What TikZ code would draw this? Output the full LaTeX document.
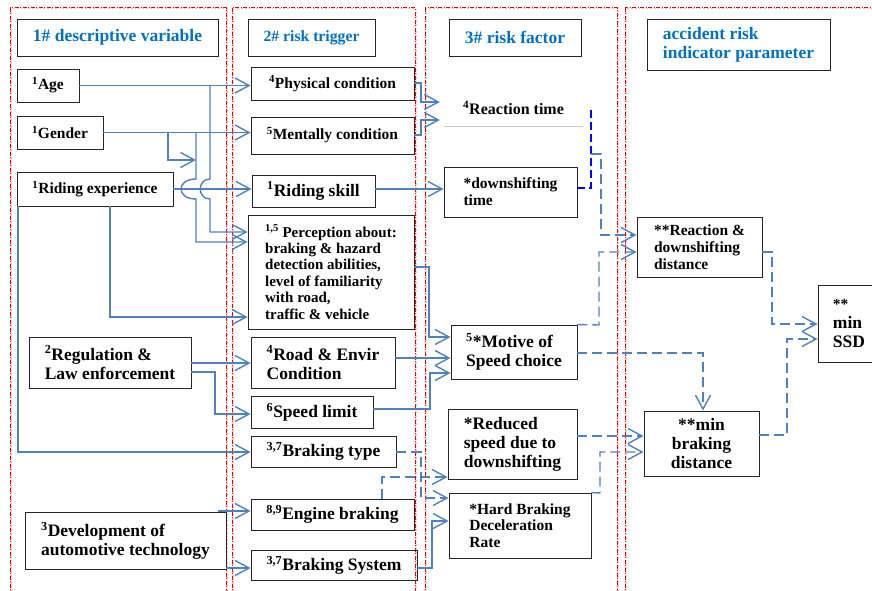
\documentclass[tikz,border=0pt]{standalone}
\usepackage{fontspec}
\setmainfont{Liberation Serif}
\usetikzlibrary{arrows.meta}
\definecolor{hblue}{RGB}{0,112,192}
\definecolor{cblue}{RGB}{79,129,189}
\newcommand\smfnt{\fontsize{15.5}{16.8}\selectfont\bfseries}
\newcommand\bgfnt{\fontsize{17.5}{19}\selectfont\bfseries}
\newcommand\sps[1]{\textsuperscript{#1}}
\begin{document}
\begin{tikzpicture}[x=1pt,y=-1pt,
  box/.style={draw=black!85,line width=0.9pt,align=left,inner sep=2pt,font=\smfnt},
  bbox/.style={box,font=\bgfnt},
  hbox/.style={box,font=\bgfnt,text=hblue},
  conn/.style={draw=cblue,line width=1.4pt,-{Straight Barb[length=14pt,width=15pt]}},
  dconn/.style={conn,dash pattern=on 10pt off 5pt},
  colbg/.style={draw=red!25,line width=1.8pt,dotted},
  colfg/.style={draw=red!90!black,line width=0.6pt,dash pattern=on 4pt off 1.5pt on 1pt off 1.5pt}]
\useasboundingbox (0,0) rectangle (872,590);
% column frames
\foreach \a/\b in {10/226,232/415,425/617,625/890}{
  \draw[colbg] (\a+1,8.5) rectangle (\b+1,600);
  \draw[colfg] (\a,7.5) rectangle (\b,600);
}
% headers
\node[hbox,minimum width=201,minimum height=37] (h1) at (117.5,37.5) {1\# descriptive variable};
\node[hbox,font=\fontsize{15.7}{17}\selectfont\bfseries,minimum width=127,minimum height=37] (h2) at (311.5,37.5) {2\# risk trigger};
\node[hbox,minimum width=132,minimum height=37] (h3) at (515,37.5) {3\# risk factor};
\node[hbox,minimum width=183,minimum height=51] (h4) at (738.5,44.5) {accident risk\\indicator parameter};
% column 1
\node[box,minimum width=62,minimum height=33] (age) at (48,85.5) {\sps{1}Age};
\node[box,minimum width=86,minimum height=33] (gender) at (60,132.5) {\sps{1}Gender};
\node[box,minimum width=156,minimum height=34] (ridexp) at (95,189) {\sps{1}Riding experience};
\node[bbox,minimum width=162,minimum height=51] (reg) at (110,362.5) {\sps{2}Regulation \&\\Law enforcement};
\node[bbox,minimum width=201,minimum height=57] (dev) at (125.5,540.5) {\sps{3}Development of\\automotive technology};
% column 2
\node[box,minimum width=163,minimum height=33] (phys) at (332.5,83.5) {\sps{4}Physical condition};
\node[box,minimum width=163,minimum height=37] (ment) at (332.5,135.5) {\sps{5}Mentally condition};
\node[bbox,minimum width=123,minimum height=32] (skill) at (313.5,191) {\sps{1}Riding skill};
\node[box,font=\fontsize{15}{16.4}\selectfont\bfseries,minimum width=166,minimum height=114] (perc) at (331,272) {\sps{1,5} Perception about:\\braking \& hazard\\detection abilities,\\level of familiarity\\with road,\\traffic \& vehicle};
\node[bbox,minimum width=144,minimum height=51] (road) at (323,362.5) {\sps{4}Road \& Envir\\Condition};
\node[bbox,minimum width=122,minimum height=32] (speed) at (312,412) {\sps{6}Speed limit};
\node[bbox,minimum width=145,minimum height=31] (btype) at (323.5,451.5) {\sps{3,7}Braking type};
\node[bbox,minimum width=163,minimum height=31] (engine) at (332.5,514.5) {\sps{8,9}Engine braking};
\node[bbox,minimum width=166,minimum height=30] (bsys) at (334,565) {\sps{3,7}Braking System};
% column 3
\node[font=\fontsize{16}{18}\selectfont\bfseries,minimum width=147,minimum height=36,inner sep=0pt] (react) at (513.5,108) {\sps{4}Reaction time};
\draw[black!20,line width=0.6pt] ([xshift=4]react.south west) -- ([xshift=-4]react.south east);
\node[box,minimum width=133,minimum height=50] (dtime) at (510.5,192) {*downshifting\\time};
\node[bbox,minimum width=126,minimum height=54] (motive) at (514,352) {\sps{5}*Motive of\\Speed choice};
\node[bbox,minimum width=129,minimum height=70] (reduced) at (512.5,444) {*Reduced\\speed due to\\downshifting};
\node[box,minimum width=142,minimum height=65] (hard) at (520,525.5) {*Hard Braking\\Deceleration\\Rate};
% column 4
\node[box,minimum width=125,minimum height=60] (rdd) at (699.5,247) {**Reaction \&\\downshifting\\distance};
\node[bbox,minimum width=62,minimum height=77] (ssd) at (849,323.5) {{\smfnt **}\\min\\SSD};
\node[bbox,align=center,minimum width=115,minimum height=65] (mbd) at (701.5,443.5) {**min\\braking\\distance};
% solid connectors col1 -> col2
\draw[conn] (age.east) -- (age.east -| phys.west);
\draw[conn] (gender.east) -- (gender.east -| ment.west);
\draw[conn] (ridexp.east) -- (ridexp.east -| skill.west);
\draw[conn] (210,85.5) -- (210,179) .. controls (197,179) and (197,199) .. (210,199) -- (210,232) -- (perc.west |- 0,232);
\draw[conn] (196,132.5) -- (196,179) .. controls (176,179) and (176,199) .. (196,199) -- (196,242) -- (perc.west |- 0,242);
\draw[conn] (168,132.5) -- (168,160) -- (196,160);
\draw[conn] (ridexp.south -| 110,0) -- (110,317) -- (perc.west |- 0,317);
\draw[conn] (ridexp.south -| 18,0) -- (18,452) -- (btype.west |- 0,452);
\draw[conn] (reg.east |- 0,363) -- (road.west |- 0,363);
\draw[conn] (reg.east |- 0,372) -- (215,372) -- (215,414) -- (speed.west |- 0,414);
\draw[conn] (218,511) -- (engine.west |- 0,511);
\draw[conn] (dev.east |- 0,568) -- (bsys.west |- 0,568);
% solid connectors col2 -> col3
\draw[conn] (phys.east |- 0,83) -- (421,83) -- (421,102) -- (react.west |- 0,102);
\draw[conn] (ment.east |- 0,135) -- (421,135) -- (421,120) -- (react.west |- 0,120);
\draw[conn] (skill.east |- 0,189) -- (dtime.west |- 0,189);
\draw[conn] (perc.east |- 0,267) -- (429,267) -- (429,337) -- (motive.west |- 0,337);
\draw[conn] (road.east |- 0,358) -- (motive.west |- 0,358);
\draw[conn] (speed.east |- 0,409) -- (430,409) -- (430,373) -- (motive.west |- 0,373);
\draw[conn] (bsys.east |- 0,568) -- (432,568) -- (432,521) -- (hard.west |- 0,521);
% dashed connectors
\draw[dconn] (btype.east |- 0,452) -- (421,452) -- (421,498) -- (hard.west |- 0,498);
\draw[dconn] (engine.north -| 382,0) -- (382,477) -- (reduced.west |- 0,477);
\draw[dconn] (reduced.east |- 0,436) -- (mbd.west |- 0,436);
\draw[dconn] (hard.north east) -- (600,493) -- (600,452) -- (mbd.west |- 0,452);
\draw[dconn] (motive.east |- 0,353) -- (703,353) -- (mbd.north -| 703,0);
\draw[dconn] (motive.north east) -- (599,325) -- (599,252) -- (rdd.west |- 0,252);
\draw[draw=blue,line width=1.2pt,dash pattern=on 8pt off 4pt] (dtime.east |- 0,188) -- (591,188) -- (591,108);
\draw[dconn] (591,154) -- (601,154) -- (601,235) -- (rdd.west |- 0,235);
\draw[dconn] (rdd.east |- 0,252) -- (772,252) -- (772,324) -- (ssd.west |- 0,324);
\draw[dconn] (mbd.east |- 0,435) -- (787,435) -- (787,339) -- (ssd.west |- 0,339);
\end{tikzpicture}
\end{document}
